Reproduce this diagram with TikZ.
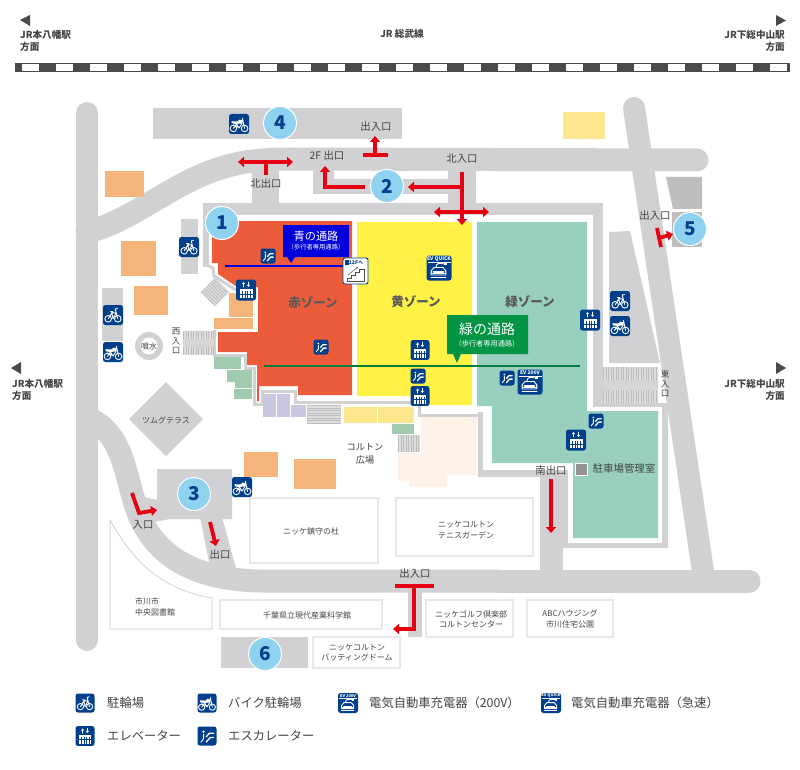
\documentclass[tikz,border=0pt]{standalone}
\usepackage{fontspec}
\setmainfont{Noto Sans CJK JP}
\usetikzlibrary{arrows.meta}
\definecolor{roadc}{HTML}{D1D1D3}
\definecolor{redz}{HTML}{EC5C3A}
\definecolor{yelz}{HTML}{FFF145}
\definecolor{grnz}{HTML}{98CFBF}
\definecolor{orng}{HTML}{F5B47A}
\definecolor{pyel}{HTML}{FDE68E}
\definecolor{purp}{HTML}{C9C8E0}
\definecolor{lgrn}{HTML}{A0CBAE}
\definecolor{peach}{HTML}{FDF1E8}
\definecolor{navy}{HTML}{003F8C}
\definecolor{numc}{HTML}{8FD2F0}
\definecolor{arrowred}{HTML}{E60012}
\definecolor{txtc}{HTML}{444444}
\definecolor{darkg}{HTML}{BEBEBE}
\definecolor{bluep}{HTML}{0000DC}
\definecolor{greenp}{HTML}{009444}
\definecolor{rail}{HTML}{4A4A4A}
\tikzset{
  road/.style={draw=roadc,line cap=round,line join=round,line width=23pt},
  strip/.style={draw=roadc,line join=miter,line width=#1},
  bld/.style={draw=black!9,fill=white,line width=1.4pt},
  maplabel/.style={font=\fontsize{10.4}{11.5}\selectfont,text=txtc,inner sep=0pt,align=center},
  smalllabel/.style={font=\fontsize{8}{10.2}\selectfont,text=txtc,inner sep=0pt,align=center},
  legendlabel/.style={font=\fontsize{12.3}{14}\selectfont,text=txtc,inner sep=0pt,anchor=west},
  stationlabel/.style={font=\fontsize{9.6}{12}\selectfont\bfseries,text=txtc,inner sep=0pt},
  zonelabel/.style={font=\fontsize{12.5}{14}\selectfont\bfseries,text=black!65,inner sep=0pt},
  numc/.style={circle,fill=numc,draw=white,line width=1pt,minimum size=33pt,inner sep=0pt,
    font=\fontsize{19}{19}\selectfont\bfseries,text=navy},
  redline/.style={draw=arrowred,line width=3.8pt,line join=miter},
  redarrow/.style={redline,-{Triangle[length=6pt,width=10pt]}},
  redboth/.style={redline,{Triangle[length=6pt,width=10pt]}-{Triangle[length=6pt,width=10pt]}},
  wl/.style={draw=white,line width=.9pt,line cap=round,line join=round},
  bikeicon/.pic={
    \fill[navy,rounded corners=2.5pt] (-10,-10) rectangle (10,10);
    \draw[wl] (-4.8,3.8) circle (3.3) (4.8,3.8) circle (3.3);
    \draw[wl] (-4.8,3.8) -- (-1.2,-2.2) -- (3.2,-2.2) -- (4.8,3.8) (-1.2,-2.2) -- (0,3.8) -- (3.2,-2.2) (3.2,-2.2) -- (2.2,-6) -- (4.5,-6.5) (-2.6,-3.4) -- (0,-3.4);
  },
  motoicon/.pic={
    \fill[navy,rounded corners=2.5pt] (-10,-10) rectangle (10,10);
    \draw[wl] (-5.6,4.4) circle (3.3) (5.6,4.4) circle (3.3);
    \fill[white] (-7.5,-2.8) -- (-1.5,-2.6) -- (.5,-4.4) -- (4.2,-3.6) -- (3.2,-.6) -- (-3,0) -- (-7.5,-.8) -- cycle;
    \draw[wl] (3.4,-5.8) -- (5.6,4.4) (-5.6,4.4) -- (-2.5,0) (-2.5,0) -- (0,4) -- (3,-.6) (-5.6,1) -- (0,3.6);
  },
  elevicon/.pic={
    \fill[navy,rounded corners=2.5pt] (-10,-10.5) rectangle (10,10.5);
    \draw[wl,-{Triangle[length=2.2pt,width=3pt]}] (-2.5,-3) -- (-2.5,-8);
    \draw[wl,-{Triangle[length=2.2pt,width=3pt]}] (2.5,-8) -- (2.5,-3);
    \fill[white] (-6.5,-1.5) rectangle (6.5,8);
    \foreach \gx in {-4,-1.4,1.2,3.8} {\fill[navy] (\gx,1) rectangle +(.9,7);}
    \fill[navy] (-6.5,3.6) rectangle (6.5,4.2);
  },
  escicon/.pic={
    \fill[navy,rounded corners=2.5pt] (-10,-10) rectangle (10,10);
    \draw[white,line width=1.3pt,line join=round] (-1,6.5) -- (3.5,1.5) -- (7.5,1.5);
    \draw[white,line width=1.3pt,line join=round] (-1,1) -- (2.5,-3) -- (7.5,-3);
    \draw[wl] (-3.6,-2) -- (-3.6,3) -- (-6.5,6.5);
    \fill[white] (-3.6,-4.6) circle (1.3);
  },
  evfast/.pic={\evbody{EV QUICK}},
  evslow/.pic={\evbody{EV 200V}},
}
\newcommand\evbody[1]{%
  \fill[navy,rounded corners=2.5pt] (-12.5,-12.5) rectangle (12.5,12.5);
  \fill[white] (-11.5,-6.3) rectangle (11.5,-6);
  \node[text=white,inner sep=0pt,font=\fontsize{5}{5}\selectfont\bfseries,transform shape] at (0,-9) {#1};
  \draw[wl] (-8,3) -- (-5,-.5) -- (4,-.5) -- (7,3) -- (7,7) -- (-8,7) -- cycle;
  \fill[white] (-8,3.4) rectangle (7,6.4);
  \fill[navy] (-6.5,4.2) circle (1) (5.5,4.2) circle (1);
  \draw[wl] (-3,-.7) .. controls (-3,-5) and (0,-5) .. (6,-4);
  \fill[white] (5,-5.2) rectangle (8,-2.6);
  \draw[wl] (-8,9.8) -- (7,9.8);
}
\newcommand\ico[4][1]{\pic[scale=#1] at (#3,#4) {#2};}
\newcommand\lab[3]{\node[maplabel] (#1) at (#2) {#3};}
\newcommand\slab[3]{\node[smalllabel] (#1) at (#2) {#3};}
\newcommand\stairband[4]{%x1 x2 ymid h
  \fill[black!13] (#1,#3) ++(0,-#4/2) rectangle (#2,#3+#4/2);
  \draw[black!26,line width=#4*1pt,dash pattern=on .9pt off 1.6pt] (#1,#3) -- (#2,#3);}
\begin{document}
\begin{tikzpicture}[x=1pt,y=-1pt]
\useasboundingbox (0,0) rectangle (800,770);
\fill[white] (0,0) rectangle (800,770);

% railway
\draw[rail,line width=7pt,dash pattern=on 17pt off 17pt,dash phase=10pt] (15,68) -- (790,68);
\draw[rail,line width=1pt] (15,64) -- (790,64) (15,71.5) -- (790,71.5);
\fill[rail] (20,20) -- (30,15) -- (30,26) -- cycle;
\fill[rail] (786,20.5) -- (776,15) -- (776,26) -- cycle;
\fill[rail] (11,368) -- (21,362) -- (21,374) -- cycle;
\fill[rail] (786,368) -- (776,362) -- (776,374) -- cycle;
\node[stationlabel,anchor=west,align=left] (stnw) at (20,41) {JR本八幡駅\\方面};
\node[stationlabel,anchor=east,align=right] (stne) at (785,41) {JR下総中山駅\\方面};
\node[stationlabel,anchor=west,align=left] (stmw) at (12,390) {JR本八幡駅\\方面};
\node[stationlabel,anchor=east,align=right] (stme) at (785,390) {JR下総中山駅\\方面};
\node[stationlabel] (sobu) at (402,34) {JR 総武線};

% roads
\draw[road,line width=22pt] (87,113) -- (87,640);
\draw[road,line width=22pt,line cap=round] (634,108) -- (704,578);
\draw[road] (87,232) .. controls (130,222) and (170,185) .. (215,170) .. controls (235,163) and (255,159) .. (290,159) -- (697,160);
\draw[road,line cap=butt] (87,418) .. controls (120,430) and (125,470) .. (133,497) .. controls (142,530) and (165,580) .. (262,581) -- (500,581);
\draw[road] (500,581) -- (749,581);
\fill[roadc] (153,108) rectangle (402,139);
\fill[roadc] (252,165) rectangle (279,205);
\fill[roadc] (313,165) rectangle (334,194);
\fill[roadc] (313,179) rectangle (450,194);
\fill[roadc] (448,165) rectangle (476,205);
\fill[roadc] (540,470) rectangle (563,585);
\fill[roadc] (408,585) rectangle (422,637);
\fill[roadc] (181,219) rectangle (198,274);
\fill[roadc] (102,288) rectangle (123,341);
\fill[roadc] (609,232) -- (630,231) -- (660,363) -- (609,363) -- cycle;
\fill[roadc] (157,469) -- (232,469) -- (232,519) -- (170,519) -- (143,524) -- (135,495) -- (157,500) -- cycle;
\fill[roadc] (200,517) -- (222,517) -- (237,572) -- (211,572) -- cycle;
\fill[roadc] (166,382) -- (203,419) -- (166,456) -- (129,419) -- cycle;
\fill[roadc] (221,637) rectangle (308,668);
\fill[darkg] (666,177) -- (702,177) -- (702,209) -- (673,209) -- cycle;
\fill[darkg] (672,212) rectangle (702,247);

% ring round the zones
\fill[roadc] (203,203) rectangle (603,215);
\fill[roadc] (203,203) rectangle (209,267);
\fill[roadc] (593,203) rectangle (603,407);
\draw[strip=3pt] (209,266) -- (213,268) -- (214,276) -- (236,290);
\draw[strip=3pt] (214,330) -- (214,355) -- (245,355) -- (245,368) -- (254,368) -- (254,404) -- (262,404) -- (262,391) -- (295,391) -- (295,402.5) -- (419,402.5) -- (419,415) -- (480.5,415) -- (480.5,473) -- (540,473);
\fill[roadc] (478,470) rectangle (563,477);
\fill[roadc] (478,412) rectangle (483,477);
\fill[roadc] (563,470) rectangle (568,547);
\fill[roadc] (563,543) rectangle (668,548);
\fill[roadc] (662,403) rectangle (668,548);
\fill[roadc] (603,403) rectangle (668,407);

% zones
\fill[redz] (212,221) -- (352,221) -- (352,395) -- (298,395) -- (298,386) -- (259,386) -- (259,401) -- (257,401) -- (257,365) -- (247,365) -- (247,352) -- (218,352) -- (218,332) -- (258,332) -- (258,287) -- (237,287) -- (218,274) -- (218,263) -- (212,263) -- cycle;
\fill[yelz] (357,222) -- (472,222) -- (472,405) -- (420,405) -- (420,396) -- (357,396) -- cycle;
\fill[grnz] (477,222) -- (587,222) -- (587,411) -- (658,411) -- (658,538) -- (573,538) -- (573,463) -- (492,463) -- (492,406) -- (477,406) -- cycle;

% other blocks
\fill[orng] (105,171) rectangle (144,197);
\fill[orng] (121,241) rectangle (156,276);
\fill[orng] (134,286) rectangle (168,315);
\fill[orng] (244,452) rectangle (278,477);
\fill[orng] (294,459) rectangle (336,489);
\fill[orng] (229,293) rectangle (253,317);
\fill[orng] (214,318) rectangle (253,329);
\fill[pyel] (563,112) rectangle (605,139);
\fill[pyel] (344,407) rectangle (377,423);
\fill[pyel] (378,407) rectangle (414,423);
\fill[lgrn] (392,424) rectangle (414,434);
\fill[purp] (263,394) rectangle (276,417);
\fill[purp] (277,394) rectangle (290,417);
\fill[purp] (291,405) rectangle (306,417);
\fill[lgrn] (214,357) rectangle (241,369);
\fill[lgrn] (227,370) -- (252,370) -- (252,388) -- (235,388) -- (235,382) -- (227,382) -- cycle;
\fill[lgrn] (234,389) rectangle (252,399);
\fill[peach] (421,417) -- (477,417) -- (477,475) -- (447,475) -- (447,487) -- (409,487) -- (409,481) -- (398,481) -- (398,453) -- (421,453) -- cycle;

% stairs
\stairband{183}{214}{343}{24}
\fill[black!16] (183,339) rectangle (214,347);
\stairband{603}{658}{385}{36}
\fill[black!16] (603,380) rectangle (658,390);
\fill[black!13] (307,405) rectangle (341,424);
\draw[black!26,line width=34pt,dash pattern=on .9pt off 1.6pt] (324,405) -- (324,424);
\stairband{398}{420}{443.5}{17}
\begin{scope}[shift={(215,292)},rotate=45]
\fill[black!13] (-10,-10) rectangle (10,10);
\draw[black!26,line width=20pt,dash pattern=on .9pt off 1.6pt] (-10,0) -- (10,0);
\end{scope}

% buildings
\draw[bld] (250,498) rectangle (378,563);
\draw[bld] (396,498) rectangle (533,556);
\draw[black!22,line width=.6pt] (110,520) .. controls (135,565) and (165,590) .. (212,598) -- (212,629) -- (110,629) -- cycle;
\draw[bld] (220,600) rectangle (382,629);
\draw[bld] (426,600) rectangle (513,637);
\draw[bld] (527,600) rectangle (613,637);
\draw[bld] (313,637) rectangle (400,668);

% fountain
\fill[roadc] (149,346) circle (14);
\fill[white] (149,346) circle (8.5);
\node[smalllabel,text=txtc] (fountain) at (149,346) {噴水};

% passages
\fill[bluep] (283,225) -- (349,225) -- (349,257) -- (295,257) -- (291,263) -- (287,257) -- (283,257) -- cycle;
\draw[bluep,line width=1.6pt] (225,266) -- (345,266);
\node[inner sep=0pt,text=white,align=center,font=\fontsize{11.2}{13}\selectfont] (bluet) at (316,236) {青の通路};
\node[inner sep=0pt,text=white,font=\fontsize{6.3}{7}\selectfont] (blues) at (316,247.5) {（歩行者専用通路）};
\fill[greenp] (447,315) -- (528,315) -- (528,354) -- (461,354) -- (457,363) -- (453,354) -- (447,354) -- cycle;
\draw[greenp!85!black,line width=1.8pt] (264,366) -- (580,366);
\node[inner sep=0pt,text=white,font=\fontsize{14}{15}\selectfont] (greent) at (487,329) {緑の通路};
\node[inner sep=0pt,text=white,font=\fontsize{7.2}{8}\selectfont] (greens) at (487,343.5) {（歩行者専用通路）};

% stair sign
\draw[navy,fill=white,line width=.9pt,rounded corners=2pt] (343,258) rectangle (368,284);
\fill[navy] (345,260) rectangle (349,265);
\node[inner sep=0pt,text=navy,font=\fontsize{5}{5}\selectfont\bfseries] (signt) at (356,262.5) {12Fへ};
\draw[black!70,line width=.5pt] (347,281) -- (347,278) -- (351,278) -- (351,275) -- (355,275) -- (355,272) -- (359,272) -- (359,269) -- (364,269) -- (364,281) -- cycle;
\draw[black!70,line width=.5pt,-{Stealth[length=2pt]}] (348,275) -- (358,267);

% zone names
\node[zonelabel] (zred) at (313,303) {赤ゾーン};
\node[zonelabel] (zyel) at (416,302) {黄ゾーン};
\node[zonelabel] (zgrn) at (530,302) {緑ゾーン};

% icons
\ico{motoicon}{239}{124}
\ico{bikeicon}{189}{247}
\ico{bikeicon}{113}{315}
\ico{motoicon}{113}{352}
\ico{elevicon}{246}{290}
\ico[.75]{escicon}{268}{256}
\ico[.75]{escicon}{321}{347}
\ico[.95]{elevicon}{420}{350}
\ico[.75]{escicon}{418}{376}
\ico[.95]{elevicon}{420}{396}
\ico{evfast}{439}{268}
\ico{bikeicon}{620}{301}
\ico{motoicon}{620}{326}
\ico{elevicon}{590}{320}
\ico{evslow}{530}{382}
\ico[.75]{escicon}{507}{378}
\ico[.75]{escicon}{596}{421}
\ico{elevicon}{576}{440}
\ico{motoicon}{242}{487}

% office square
\draw[white,fill=black!42,line width=.8pt] (575,463) rectangle (587,475);

% red arrows
\draw[redboth] (238,162) -- (293,162);
\draw[redline] (266,162) -- (266,175);
\draw[redarrow] (365,187) -- (325,187) -- (325,166);
\draw[redline] (363,155) -- (388,155);
\draw[redarrow] (375,155) -- (375,136);
\draw[redarrow] (462,172) -- (462,225);
\draw[redarrow] (462,187) -- (408,187);
\draw[redboth] (434,212) -- (489,212);
\draw[redline] (657,228) -- (661,247);
\draw[redarrow] (659,238) -- (673,234);
\draw[redarrow] (132,493) -- (139,513) -- (157,510);
\draw[redarrow] (210,522) -- (216,546);
\draw[redarrow] (551,479) -- (551,533);
\draw[redline] (395,586) -- (434,586);
\draw[redarrow] (414,586) -- (414,629) -- (393,629);

% numbers
\node[numc] (n1) at (222,223) {1};
\node[numc] (n2) at (387,186) {2};
\node[numc] (n3) at (194,494) {3};
\node[numc] (n4) at (280,123) {4};
\node[numc] (n5) at (690,229) {5};
\node[numc] (n6) at (265,654) {6};

% labels
\lab{gtop}{376,127}{出入口}
\lab{g2f}{327,156}{2F 出口}
\lab{gne}{266,184}{北出口}
\lab{gni}{462,159}{北入口}
\lab{gright}{655,216}{出入口}
\lab{gse}{551,471}{南出口}
\lab{gbot}{415,574}{出入口}
\lab{gin}{143,525}{入口}
\lab{gout}{220,555}{出口}
\node[maplabel,font=\fontsize{8.5}{9.5}\selectfont] (gwest) at (176,341) {西\\入\\口};
\node[maplabel,font=\fontsize{8.5}{9.5}\selectfont] (geast) at (665,384) {東\\入\\口};
\node[maplabel,font=\fontsize{9.2}{12.5}\selectfont] (coltonsq) at (365,454) {コルトン\\広場};
\lab{office}{624,469}{駐車場管理室}
\slab{tsumugu}{166,420}{ツムグテラス}
\slab{chinju}{311,531}{ニッケ鎮守の杜}
\slab{tennis}{466,530}{ニッケコルトン\\テニスガーデン}
\node[smalllabel,align=left,anchor=west] (library) at (135,607) {市川市\\中央図書館};
\slab{science}{307,615}{千葉県立現代産業科学館}
\slab{golf}{471,619}{ニッケゴルフ倶楽部\\コルトンセンター}
\slab{abc}{570,619}{ABCハウジング\\市川住宅公園}
\slab{batting}{357,653}{ニッケコルトン\\バッティングドーム}

% legend
\ico[.95]{bikeicon}{85}{703}
\node[legendlabel] (l1) at (107,703) {駐輪場};
\ico[.95]{motoicon}{207}{703}
\node[legendlabel] (l2) at (228,703) {バイク駐輪場};
\ico[.8]{evslow}{348}{703}
\node[legendlabel] (l3) at (369,703) {電気自動車充電器（200V）};
\ico[.8]{evfast}{551}{703}
\node[legendlabel] (l4) at (571,703) {電気自動車充電器（急速）};
\ico[.95]{elevicon}{85}{736}
\node[legendlabel] (l5) at (107,736) {エレベーター};
\ico[.95]{escicon}{207}{736}
\node[legendlabel] (l6) at (228,736) {エスカレーター};
\end{tikzpicture}
\end{document}
